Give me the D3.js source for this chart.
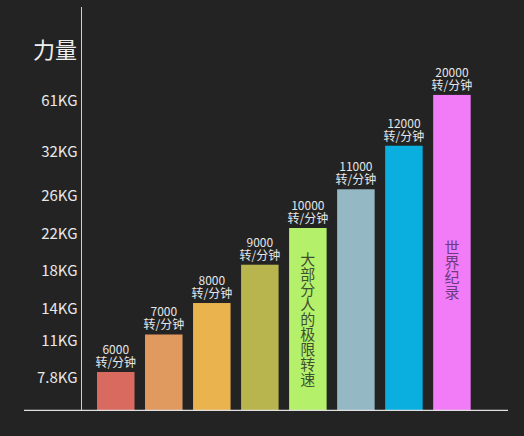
<!DOCTYPE html>
<html><head><meta charset="utf-8">
<script src="https://cdn.jsdelivr.net/npm/d3@7"></script>
<style>
html,body{margin:0;padding:0;background:#232323;}
svg{display:block;}
text{font-family:"Noto Sans CJK SC","Noto Sans",sans-serif;}
</style></head>
<body>
<svg id="c" width="524" height="436"></svg>
<script>
// data
const speeds = ["6000","7000","8000","9000","10000","11000","12000","20000"];
const forceKg = [7.8, 11, 14, 18, 22, 26, 32, 61];
const tickLabels = ["7.8KG","11KG","14KG","18KG","22KG","26KG","32KG","61KG"];
// relative position of each KG level on the (non-linear) axis, as share of axis height
const axisShare = [0.095, 0.188, 0.266, 0.361, 0.452, 0.548, 0.656, 0.782];
const barColors = ["#d96a5f","#e09a60","#eab34d","#b8b44e","#b5f06b","#94b8c4","#0aafe0","#f27bf7"];
const unitLabel = "转/分钟";
const yTitle = "力量";
const notes = [
  {speed:"10000", text:"大部分人的极限转速", color:"#3f5030", dy:0},
  {speed:"20000", text:"世界纪录", color:"#6d3a7c", dy:17}
];

const svg = d3.select("#c");
const axisX = 81.5, baseY = 410.3, topY = 7;
const plotH = baseY - topY;

const x = d3.scaleBand().domain(speeds).range([axisX, 486.2]).paddingInner(0.219).paddingOuter(0.323);
const y = d3.scaleLinear()
  .domain([0, ...forceKg])
  .range([baseY, ...axisShare.map(s => baseY - s * plotH)]);

// bars
svg.selectAll("rect.bar").data(speeds).join("rect")
  .attr("class","bar")
  .attr("x", d => x(d))
  .attr("width", x.bandwidth())
  .attr("y", (d,i) => y(forceKg[i]))
  .attr("height", (d,i) => baseY - y(forceKg[i]))
  .attr("fill", (d,i) => barColors[i]);

// bar labels: one text element, two lines
const lab = svg.selectAll("text.lab").data(speeds).join("text")
  .attr("class","lab")
  .attr("text-anchor","middle")
  .attr("fill","#e6e6e6").attr("font-size",12)
  .attr("transform", (d,i) => `translate(${x(d) + x.bandwidth()/2},${y(forceKg[i])})`);
lab.append("tspan").attr("x",0).attr("y",-18).text(d => d);
lab.append("tspan").attr("x",0).attr("y",-5).text(unitLabel);

// vertical annotations (single text, vertical writing mode)
notes.forEach(n => {
  const i = speeds.indexOf(n.speed);
  const top = y(forceKg[i]);
  const fs = 15;
  const len = Array.from(n.text).length * fs;
  const cy = (top + baseY)/2 + n.dy;
  svg.append("text")
    .attr("x", x(n.speed) + x.bandwidth()/2)
    .attr("y", cy - len/2)
    .style("writing-mode","vertical-rl")
    .style("text-orientation","upright")
    .attr("font-size", fs)
    .attr("fill", n.color)
    .text(n.text);
});

// y axis
const yAxis = d3.axisLeft(y).tickValues(forceKg).tickSize(0).tickPadding(4)
  .tickFormat((d,i) => tickLabels[i]);
const gy = svg.append("g").attr("transform",`translate(${axisX},0)`).call(yAxis);
gy.select(".domain").remove();
gy.selectAll("text").attr("font-size",15).attr("fill","#e8e8e8")
  .attr("font-family",'"Noto Sans CJK SC","Noto Sans",sans-serif')
  .attr("dy","0.32em").attr("transform","translate(0,6)");

svg.append("line").attr("x1",axisX).attr("x2",axisX).attr("y1",topY).attr("y2",baseY)
  .attr("stroke","#cfcfcf").attr("stroke-width",1);
// x baseline
svg.append("line").attr("x1",24).attr("x2",508).attr("y1",baseY).attr("y2",baseY)
  .attr("stroke","#e0e0e0").attr("stroke-width",1.2);

// title
svg.append("text").attr("x",77).attr("y",50).attr("dy","0.36em").attr("text-anchor","end")
  .attr("font-size",22).attr("fill","#f0f0f0").text(yTitle);
</script>
</body></html>
